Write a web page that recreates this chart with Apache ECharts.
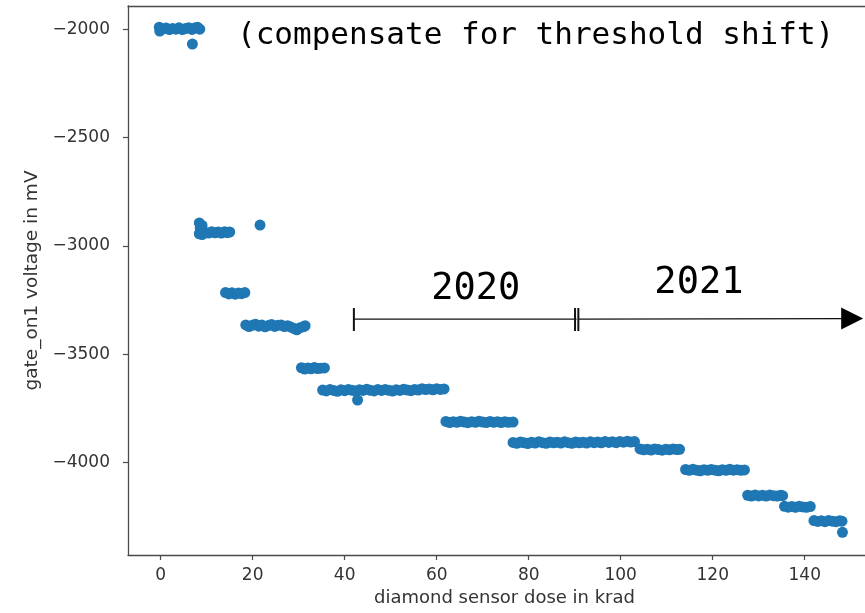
<!DOCTYPE html>
<html>
<head>
<meta charset="utf-8">
<script src="https://cdn.jsdelivr.net/npm/echarts@6/dist/echarts.min.js"></script>
<style>
html,body{margin:0;padding:0;background:#fff;}
#main{width:865px;height:613px;}
</style>
</head>
<body>
<div id="main"></div>
<script>
// ---- data: [dose in krad, gate_on1 voltage in mV] ----
const level2000 = [[-0.3,-1990],[-0.2,-2008],[0.5,-1998],[1.2,-1994],[1.9,-2001],[2.6,-1996],[3.3,-1999],[4.0,-1993],[4.7,-2001],[5.4,-1996],[6.1,-1992],[6.8,-2000],[7.4,-1994],[8.0,-1990],[8.5,-1999]];
const level2940 = [[8.4,-2894],[8.6,-2918],[8.4,-2944],[9.0,-2906],[9.1,-2930],[9.0,-2948],[9.7,-2938],[10.4,-2941],[11.1,-2935],[11.8,-2940],[12.5,-2936],[13.2,-2941],[13.9,-2935],[14.5,-2939],[15.0,-2936]];
const level3220 = [[14.1,-3216],[14.8,-3222],[15.5,-3217],[16.2,-3223],[16.9,-3218],[17.6,-3221],[18.3,-3216]];
const level3370 = [[18.5,-3365],[19.2,-3373],[19.9,-3367],[20.6,-3362],[21.3,-3371],[22.0,-3366],[22.7,-3374],[23.4,-3368],[24.1,-3363],[24.8,-3372],[25.5,-3367],[26.2,-3365],[26.9,-3373],[27.6,-3369],[28.3,-3375],[29.0,-3382],[29.6,-3388],[30.3,-3378],[31.0,-3374],[31.4,-3369]];
const level3566 = [[30.6,-3563],[31.3,-3569],[32.0,-3564],[32.7,-3568],[33.4,-3562],[34.1,-3567],[34.8,-3565],[35.6,-3564]];
const level3666 = [[35.2,-3666],[36.0,-3670],[36.8,-3664],[37.6,-3668],[38.4,-3672],[39.2,-3665],[40.0,-3669],[40.8,-3663],[41.6,-3667],[42.4,-3671],[43.2,-3665],[44.0,-3668],[44.8,-3662],[45.6,-3667],[46.4,-3670],[47.2,-3664],[48.0,-3668],[48.8,-3663],[49.6,-3667],[50.4,-3671],[51.2,-3665],[52.0,-3668],[52.8,-3662],[53.6,-3666],[54.4,-3669],[55.2,-3663],[56.0,-3666],[56.8,-3660],[57.6,-3664],[58.4,-3661],[59.2,-3665],[60.0,-3660],[60.8,-3663],[61.6,-3661]];
const level3813 = [[62.0,-3811],[62.8,-3816],[63.6,-3812],[64.4,-3815],[65.2,-3810],[66.0,-3814],[66.8,-3817],[67.6,-3812],[68.4,-3815],[69.2,-3810],[70.0,-3814],[70.8,-3816],[71.6,-3811],[72.4,-3815],[73.2,-3812],[74.0,-3816],[74.8,-3813],[75.6,-3815],[76.6,-3814]];
const level3908 = [[76.6,-3908],[77.4,-3912],[78.2,-3906],[79.0,-3910],[79.8,-3913],[80.6,-3907],[81.4,-3911],[82.2,-3905],[83.0,-3909],[83.8,-3912],[84.6,-3906],[85.4,-3910],[86.2,-3907],[87.0,-3911],[87.8,-3905],[88.6,-3909],[89.4,-3912],[90.2,-3906],[91.0,-3910],[91.8,-3907],[92.6,-3911],[93.4,-3905],[94.2,-3909],[95.0,-3906],[95.8,-3910],[96.6,-3904],[97.4,-3908],[98.2,-3905],[99.0,-3909],[99.8,-3904],[100.6,-3907],[101.4,-3903],[102.2,-3906],[103.0,-3904]];
const level3940 = [[104.2,-3938],[105.0,-3942],[105.8,-3939],[106.6,-3943],[107.4,-3938],[108.2,-3941],[109.0,-3944],[109.8,-3939],[110.6,-3942],[111.4,-3938],[112.2,-3941],[112.8,-3940]];
const level4036 = [[114.1,-4033],[114.9,-4037],[115.7,-4032],[116.5,-4036],[117.3,-4039],[118.1,-4034],[118.9,-4037],[119.7,-4033],[120.5,-4036],[121.3,-4039],[122.1,-4034],[122.9,-4037],[123.7,-4032],[124.5,-4036],[125.3,-4034],[126.1,-4037],[126.9,-4035]];
const level4154 = [[127.6,-4152],[128.4,-4156],[129.2,-4151],[130.0,-4155],[130.8,-4152],[131.6,-4156],[132.4,-4151],[133.2,-4154],[134.0,-4156],[134.8,-4152],[135.2,-4154]];
const level4205 = [[135.6,-4203],[136.4,-4207],[137.2,-4204],[138.0,-4208],[138.8,-4203],[139.6,-4206],[140.4,-4208],[141.2,-4204]];
const level4271 = [[142.0,-4269],[142.8,-4273],[143.6,-4270],[144.4,-4274],[145.2,-4269],[146.0,-4272],[146.8,-4274],[147.6,-4270],[148.1,-4272]];
const outliers = [[6.9,-2068],[21.6,-2904],[42.8,-3712],[148.2,-4323]];

const xTicks = [0, 20, 40, 60, 80, 100, 120, 140];
const yTicks = [-4000, -3500, -3000, -2500, -2000];

// annotation anchors (data coordinates)
const periodStart = [42.0, -3338];
const periodSplit = [90.4, -3338];
const periodEnd = [152.7, -3336];
const label2020 = {text: '2020', at: [68.5, -3200]};
const label2021 = {text: '2021', at: [117.0, -3172]};
const titleText = '(compensate for threshold shift)';

const allPoints = [].concat(level2000, level2940, level3220, level3370, level3566, level3666,
  level3813, level3908, level3940, level4036, level4154, level4205, level4271, outliers);

const axisColor = '#4a4a4a';
const txtColor = '#333';
const fmt = v => (v < 0 ? '\u2212' : '') + Math.abs(v);

const chart = echarts.init(document.getElementById('main'), null, {renderer: 'canvas'});
chart.setOption({
  animation: false,
  backgroundColor: '#fff',
  grid: {left: 128, top: 6, right: 0, bottom: 58, show: false},
  xAxis: [{
    type: 'value', min: -7.1, max: 153.1,
    name: 'diamond sensor dose in krad', nameLocation: 'middle', nameGap: 33,
    nameTextStyle: {fontFamily: 'DejaVu Sans', fontSize: 18, color: txtColor, padding: [0, 0, 0, 16]},
    axisLine: {show: true, onZero: false, lineStyle: {color: axisColor, width: 1.3}},
    axisTick: {show: true, length: 5, customValues: xTicks, lineStyle: {color: axisColor, width: 1.2}},
    axisLabel: {customValues: xTicks, margin: 12, fontFamily: 'DejaVu Sans', fontSize: 17, color: txtColor, formatter: fmt},
    splitLine: {show: false}
  }, {
    type: 'value', position: 'top', min: -7.1, max: 153.1,
    axisLine: {show: true, onZero: false, lineStyle: {color: axisColor, width: 1.3}},
    axisTick: {show: false}, axisLabel: {show: false}, splitLine: {show: false}
  }],
  yAxis: {
    type: 'value', min: -4428, max: -1892,
    name: 'gate_on1 voltage in mV', nameLocation: 'middle', nameGap: 79, nameRotate: 90,
    nameTextStyle: {fontFamily: 'DejaVu Sans', fontSize: 18.5, color: txtColor},
    axisLine: {show: true, onZero: false, lineStyle: {color: axisColor, width: 1.3}},
    axisTick: {show: true, length: 5, customValues: yTicks, lineStyle: {color: axisColor, width: 1.2}},
    axisLabel: {customValues: yTicks, margin: 18, fontFamily: 'DejaVu Sans', fontSize: 17, color: txtColor, formatter: fmt},
    splitLine: {show: false}
  },
  series: [{
    type: 'scatter',
    xAxisIndex: 0,
    data: allPoints,
    symbolSize: 11,
    itemStyle: {color: '#1f77b4', opacity: 1},
    silent: true
  }]
});

function px(p) { return chart.convertToPixel({xAxisIndex: 0, yAxisIndex: 0}, p); }
const a = px(periodStart), b = px(periodSplit), c = px(periodEnd);
const t1 = px(label2020.at), t2 = px(label2021.at);
const ink = '#111';
const mono = '"DejaVu Sans Mono", monospace';
chart.setOption({
  graphic: [
    {type: 'line', shape: {x1: a[0], y1: a[1], x2: b[0], y2: b[1]}, style: {stroke: ink, lineWidth: 1.2}},
    {type: 'line', shape: {x1: b[0] + 2, y1: b[1], x2: c[0] - 20, y2: c[1]}, style: {stroke: ink, lineWidth: 1.2}},
    {type: 'line', shape: {x1: a[0], y1: a[1] - 11, x2: a[0], y2: a[1] + 12}, style: {stroke: ink, lineWidth: 2}},
    {type: 'line', shape: {x1: b[0] - 1.5, y1: b[1] - 11, x2: b[0] - 1.5, y2: b[1] + 12}, style: {stroke: ink, lineWidth: 2}},
    {type: 'line', shape: {x1: b[0] + 1.8, y1: b[1] - 11, x2: b[0] + 1.8, y2: b[1] + 12}, style: {stroke: ink, lineWidth: 2}},
    {type: 'polygon', shape: {points: [[c[0], c[1]], [c[0] - 22, c[1] - 11], [c[0] - 22, c[1] + 11]]}, style: {fill: '#000'}},
    {type: 'text', x: t1[0], y: t1[1], style: {text: label2020.text, font: '37px ' + mono, fill: '#000', align: 'center', verticalAlign: 'middle'}},
    {type: 'text', x: t2[0], y: t2[1], style: {text: label2021.text, font: '37px ' + mono, fill: '#000', align: 'center', verticalAlign: 'middle'}},
    {type: 'text', x: 237, y: 36, style: {text: titleText, font: '31px ' + mono, fill: '#000', align: 'left', verticalAlign: 'middle'}}
  ]
});
</script>
</body>
</html>
